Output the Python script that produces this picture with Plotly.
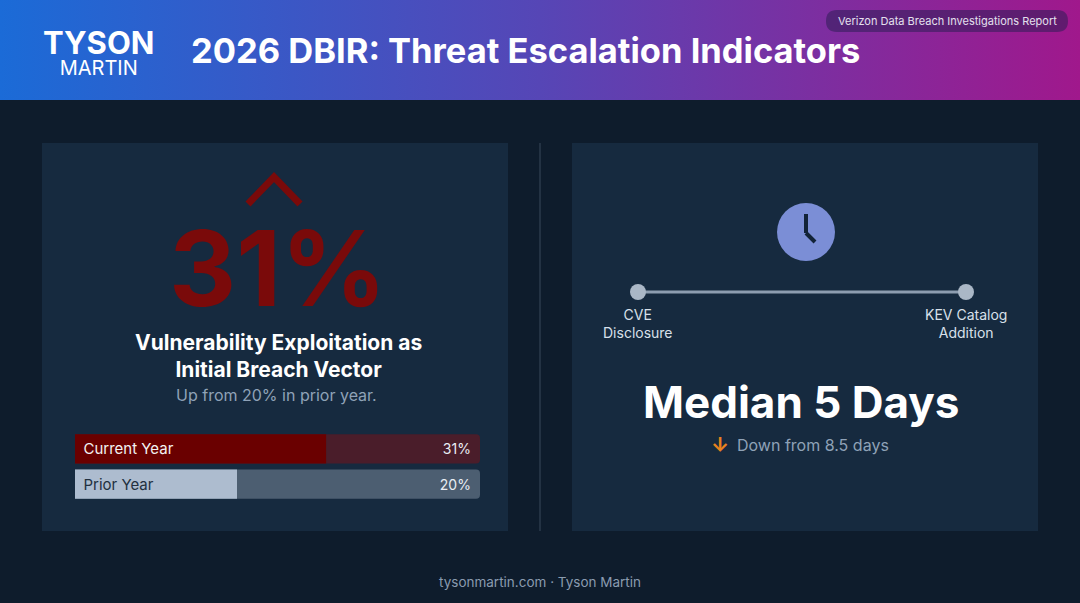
import plotly.graph_objects as go

W, H = 1080, 603
FONT = "Inter"

# data
bar_labels = ["Current Year", "Prior Year"]
bar_values = [31, 20]
bar_scale_max = 50
median_days = 5
prior_median_days = 8.5
timeline_labels = ["CVE<br>Disclosure", "KEV Catalog<br>Addition"]

BG = "#0e1c2c"
CARD = "#162a3f"
PAD = "\u2009\u2009"  # small inset for labels inside the bars

fig = go.Figure()

# header gradient band
fig.add_trace(go.Scatter(
    x=[0, W, W, 0, 0], y=[0, 0, 100, 100, 0],
    mode="lines", line=dict(width=0), fill="toself",
    fillgradient=dict(type="horizontal",
                      colorscale=[[0, "#1b6bd7"], [0.5, "#5646b6"], [1, "#a0188c"]]),
    hoverinfo="skip", showlegend=False,
))

# progress bars: tracks then fills
fig.add_trace(go.Bar(
    y=bar_labels, x=[bar_scale_max] * len(bar_labels), orientation="h",
    marker=dict(color=["#4a1d2a", "#4c5e71"], line=dict(width=0)),
    text=[f"{v}%{PAD}" for v in bar_values], textposition="inside",
    insidetextanchor="end", textfont=dict(family=FONT, size=14, color="#e8edf3"),
    xaxis="x2", yaxis="y2", hoverinfo="skip", showlegend=False,
))
fig.add_trace(go.Bar(
    y=bar_labels, x=bar_values, orientation="h",
    marker=dict(color=["#6a0000", "#adbccf"], line=dict(width=0)),
    text=[PAD + b for b in bar_labels], textposition="inside", insidetextanchor="start",
    textfont=dict(family=FONT, size=15, color=["#f2f2f2", "#223040"]),
    xaxis="x2", yaxis="y2", hoverinfo="skip", showlegend=False,
))

# timeline (days)
fig.add_trace(go.Scatter(
    x=[0, median_days], y=[0, 0], mode="lines+markers",
    line=dict(color="#8d9db0", width=3),
    marker=dict(size=16, color="#aab7c6"), cliponaxis=False,
    xaxis="x3", yaxis="y3", hoverinfo="skip", showlegend=False,
))

shapes = [
    dict(type="rect", x0=0, x1=W, y0=0, y1=H, fillcolor=BG, line_width=0, layer="below"),
    dict(type="rect", x0=42, x1=508, y0=143, y1=531, fillcolor=CARD, line_width=0,
         layer="below"),
    dict(type="rect", x0=572, x1=1038, y0=143, y1=531, fillcolor=CARD, line_width=0,
         layer="below"),
    dict(type="line", x0=540, x1=540, y0=143, y1=531, line=dict(color="#2b3a4b", width=1.5),
         layer="below"),
    # caret
    dict(type="path", path="M 248 204 L 274 177 L 300 204",
         line=dict(color="#7a0a0a", width=7), layer="above"),
    # clock
    dict(type="circle", x0=777, x1=835, y0=203, y1=261, fillcolor="#7b8ed6", line_width=0),
    dict(type="line", x0=806, x1=806, y0=214, y1=233, line=dict(color="#122338", width=4)),
    dict(type="line", x0=806, x1=815, y0=233, y1=242, line=dict(color="#122338", width=4)),
    # pill
    dict(type="path",
         path="M 837 10 L 1057 10 Q 1068 10 1068 21 Q 1068 32 1057 32 L 837 32 "
              "Q 826 32 826 21 Q 826 10 837 10 Z",
         fillcolor="rgba(45,30,85,0.55)", line_width=0, layer="above"),
]

def ann(x, y, text, size, color, bold=False, xanchor="center", yanchor="middle"):
    if bold:
        text = f"<b>{text}</b>"
    return dict(x=x, y=y, xref="x", yref="y", text=text, showarrow=False,
                xanchor=xanchor, yanchor=yanchor,
                font=dict(family=FONT, size=size, color=color))

annotations = [
    ann(98, 52, "<span style='font-size:31px'><b>TYSON</b></span><br>"
                "<span style='font-size:20px'>MARTIN</span>", 16, "white"),
    ann(189, 50, "2026 DBIR: Threat Escalation Indicators", 34.5, "white", bold=True,
        xanchor="left"),
    ann(947, 21, "Verizon Data Breach Investigations Report", 11, "#e4e0ee"),
    ann(278, 268, f"<b>{bar_values[0]}%</b>", 104, "#7a0a0a"),
    ann(278, 356, "Vulnerability Exploitation as<br>Initial Breach Vector", 21, "white",
        bold=True),
    ann(276, 395, f"Up from {bar_values[1]}% in prior year.", 16, "#8fa2b7"),
    ann(638, 323, timeline_labels[0], 14, "#d8e0ea"),
    ann(966, 323, timeline_labels[1], 14, "#d8e0ea"),
    ann(801, 402, f"Median {median_days} Days", 44, "white", bold=True),
    ann(735, 445, f"Down from {prior_median_days} days", 16, "#8fa2b7", xanchor="left"),
    ann(720, 445, "<b>↓</b>", 20, "#e8821e"),
    ann(540, 582, "tysonmartin.com · Tyson Martin", 13.5, "#8a9bb0"),
]

bar_top, bar_bot = 434, 499
pad = 2.75
fig.update_layout(
    width=W, height=H, margin=dict(l=0, r=0, t=0, b=0),
    paper_bgcolor=BG, plot_bgcolor="rgba(0,0,0,0)",
    barmode="overlay", bargap=0.17, barcornerradius=4,
    showlegend=False, shapes=shapes, annotations=annotations,
    xaxis=dict(range=[0, W], visible=False, fixedrange=True),
    yaxis=dict(range=[H, 0], visible=False, fixedrange=True),
    xaxis2=dict(domain=[75 / W, 480 / W], range=[0, bar_scale_max], visible=False,
                anchor="y2", fixedrange=True),
    yaxis2=dict(domain=[(H - bar_bot - pad) / H, (H - bar_top + pad) / H],
                visible=False, anchor="x2", autorange="reversed", fixedrange=True),
    xaxis3=dict(domain=[638 / W, 966 / W], range=[0, median_days], visible=False,
                anchor="y3", fixedrange=True),
    yaxis3=dict(domain=[(H - 302) / H, (H - 282) / H], range=[-1, 1], visible=False,
                anchor="x3", fixedrange=True),
)

fig.write_html("out.html", config={"displayModeBar": False},
               post_script="document.body.style.margin='0';")
